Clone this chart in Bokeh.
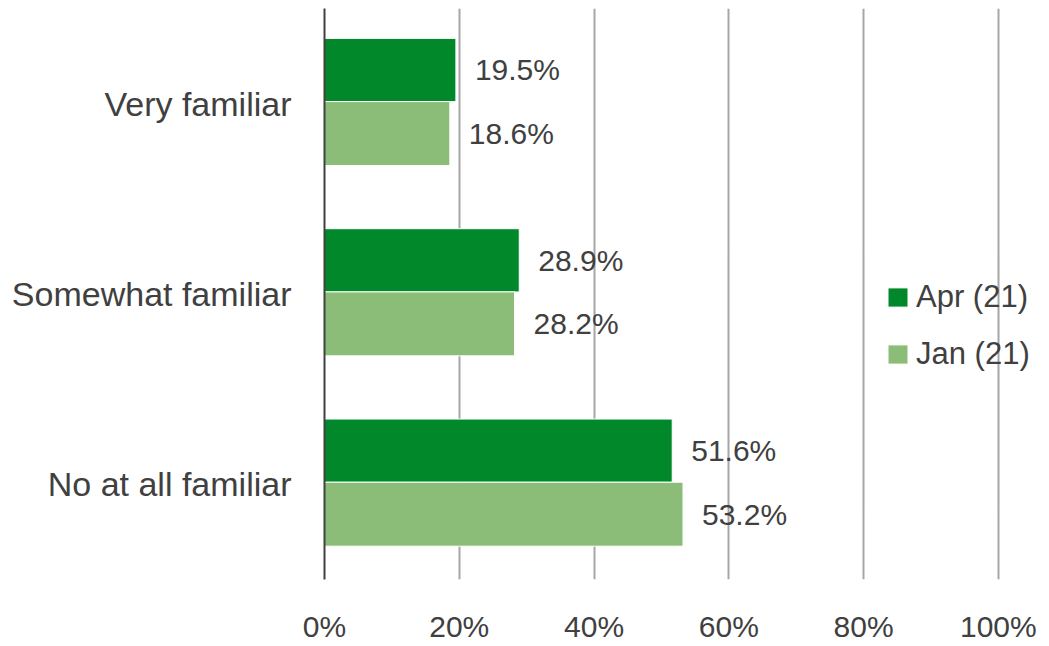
from bokeh.plotting import figure
from bokeh.models import FactorRange, Range1d, FixedTicker, ColumnDataSource, Legend, LegendItem
from bokeh.transform import dodge
from bokeh.embed import file_html
from bokeh.resources import INLINE

categories = ["No at all familiar", "Somewhat familiar", "Very familiar"]
apr_values = [51.6, 28.9, 19.5]
jan_values = [53.2, 28.2, 18.6]
series_names = ["Apr (21)", "Jan (21)"]
tick_values = [0, 20, 40, 60, 80, 100]
tick_labels = ["0%", "20%", "40%", "60%", "80%", "100%"]

APR_COLOR = "#00882B"
JAN_COLOR = "#8CBD78"
TEXT_COLOR = "#404040"
FONT = "Liberation Sans"

src = ColumnDataSource(dict(
    cat=categories,
    apr=apr_values,
    jan=jan_values,
    apr_lbl=[f"{v:.1f}%" for v in apr_values],
    jan_lbl=[f"{v:.1f}%" for v in jan_values],
))

p = figure(
    y_range=FactorRange(factors=categories, range_padding=0),
    x_range=Range1d(0, 106.4),
    frame_width=717, frame_height=571,
    min_border_left=324, min_border_right=0, min_border_top=8, min_border_bottom=0,
    output_backend="svg", toolbar_location=None,
)
p.outline_line_color = None

APR_OFF = 0.177
JAN_OFF = -0.157

r_apr = p.hbar(y=dodge("cat", APR_OFF, range=p.y_range), right="apr", height=0.332,
               source=src, fill_color=APR_COLOR, line_color="white", line_width=1)
r_jan = p.hbar(y=dodge("cat", JAN_OFF, range=p.y_range), right="jan", height=0.336,
               source=src, fill_color=JAN_COLOR, line_color="white", line_width=1)

p.text(x="apr", y=dodge("cat", APR_OFF, range=p.y_range), text="apr_lbl", source=src,
       x_offset=19, text_baseline="middle", text_align="left",
       text_font={"value": FONT}, text_font_size="30px", text_color=TEXT_COLOR)
p.text(x="jan", y=dodge("cat", JAN_OFF, range=p.y_range), text="jan_lbl", source=src,
       x_offset=19, text_baseline="middle", text_align="left",
       text_font={"value": FONT}, text_font_size="30px", text_color=TEXT_COLOR)

# x axis
p.xaxis.ticker = FixedTicker(ticks=tick_values)
p.xaxis.major_label_overrides = {t: l for t, l in zip(tick_values, tick_labels)}
p.xaxis.axis_line_color = None
p.xaxis.major_tick_line_color = None
p.xaxis.minor_tick_line_color = None
p.xaxis.major_label_text_font = FONT
p.xaxis.major_label_text_font_size = "30px"
p.xaxis.major_label_text_color = TEXT_COLOR
p.xaxis.major_label_standoff = 24

# y axis
p.yaxis.axis_line_color = TEXT_COLOR
p.yaxis.axis_line_width = 2
p.yaxis.major_tick_line_color = None
p.yaxis.minor_tick_line_color = None
p.yaxis.major_label_text_font = FONT
p.yaxis.major_label_text_font_size = "34px"
p.yaxis.major_label_text_color = TEXT_COLOR
p.yaxis.major_label_standoff = 27

p.ygrid.grid_line_color = None
p.xgrid.ticker = FixedTicker(ticks=tick_values[1:])
p.xgrid.grid_line_color = "#A6A6A6"
p.xgrid.grid_line_width = 2

legend = Legend(items=[LegendItem(label=series_names[0], renderers=[r_apr]),
                       LegendItem(label=series_names[1], renderers=[r_jan])],
                location=(561, 207))
legend.background_fill_alpha = 0
legend.border_line_color = None
legend.padding = 0
legend.margin = 0
legend.glyph_width = 25
legend.glyph_height = 24
legend.label_standoff = 6
legend.spacing = 21
legend.label_text_font = FONT
legend.label_text_font_size = "31px"
legend.label_text_color = TEXT_COLOR
p.add_layout(legend, "center")

open("out.html", "w").write(file_html(p, INLINE))
